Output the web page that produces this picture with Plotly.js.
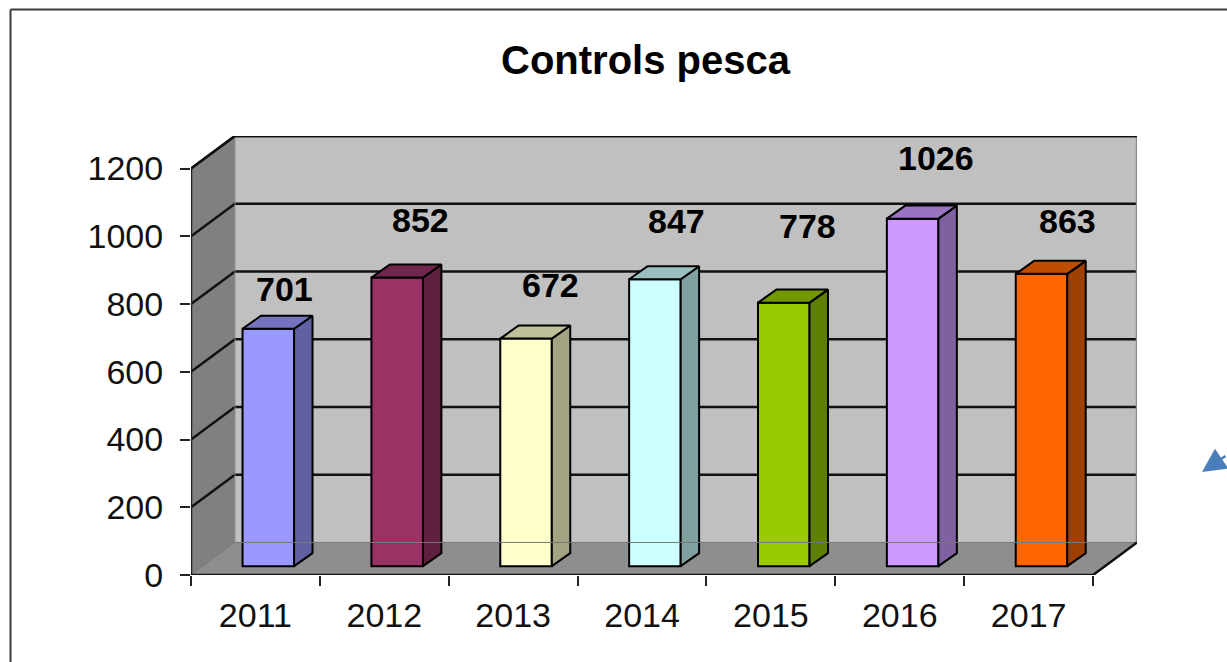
<!DOCTYPE html>
<html><head><meta charset="utf-8">
<script src="https://cdn.plot.ly/plotly-3.0.1.min.js"></script>
<style>html,body{margin:0;padding:0;background:#fff}#c{width:1227px;height:662px}</style>
</head><body><div id="c"></div>
<script>
const years = ['2011','2012','2013','2014','2015','2016','2017'];
const values = [701,852,672,847,778,1026,863];
const frontColors = ['#9999FF','#993366','#FFFFCC','#CCFFFF','#99CC00','#CC99FF','#FF6600'];
const sideColors = ['#6060A3','#5F1F3F','#A3A381','#80A0A0','#5F7F00','#7F60A0','#A04000'];
const topColors = ['#7373BF','#73264D','#BFBF99','#99BFBF','#739900','#9973BF','#BF4D00'];
const yTicks = [0,200,400,600,800,1000,1200];
const labelShiftX = [16,23,24,22,24,23,26];
const labelShiftY = [40,58,54,58,77,61,53];

const W = 1227, H = 662, M = {l:191, r:90, t:136, b:87};
const wallDX = 0.341, wallDY = 96;      // depth of the chart box, in axis units
const barDX = 0.1, barDY = 26;          // offset of the bar front from the box front
const sideDX = 0.143, sideDY = 38.5;    // depth of a bar
const barW = 0.4, x0 = -0.5, x1 = 6.5, yMax = 1200;
const pageX = px => (px - M.l) / (W - M.l - M.r);
const pageY = py => 1 - (py - M.t) / (H - M.t - M.b);

const pathOf = pts => 'M' + pts.map(p => p.join(',')).join('L') + 'Z';
const shapes = [
  {type:'path', layer:'below', path:pathOf([[x0+wallDX,wallDY],[x1+wallDX,wallDY],[x1+wallDX,yMax+wallDY],[x0+wallDX,yMax+wallDY]]), fillcolor:'#C0C0C0', line:{width:0}},
  {type:'path', layer:'below', path:pathOf([[x0,0],[x0+wallDX,wallDY],[x0+wallDX,yMax+wallDY],[x0,yMax]]), fillcolor:'#808080', line:{width:0}},
  {type:'path', layer:'below', path:pathOf([[x0,0],[x1,0],[x1+wallDX,wallDY],[x0+wallDX,wallDY]]), fillcolor:'#8E8E8E', line:{width:0}}
];
yTicks.slice(1).forEach(v => shapes.push({type:'path', layer:'below',
  path:'M'+x0+','+v+'L'+(x0+wallDX)+','+(v+wallDY)+'L'+(x1+wallDX)+','+(v+wallDY),
  line:{color:'#111',width:2.5}}));

const traces = [{
  type:'bar', x:years.map((_,i)=>i+barDX), y:values, base:barDY, width:barW,
  marker:{color:frontColors, line:{color:'#000',width:2}}, hoverinfo:'skip', showlegend:false
}];
const poly = (pts, color) => traces.push({type:'scatter', mode:'lines', x:pts.map(p=>p[0]).concat(pts[0][0]),
  y:pts.map(p=>p[1]).concat(pts[0][1]), fill:'toself', fillcolor:color, line:{color:'#000',width:2},
  hoverinfo:'skip', showlegend:false});
values.forEach((v,i) => {
  const l = i+barDX-barW/2, r = i+barDX+barW/2, b = barDY, t = barDY+v;
  poly([[r,b],[r+sideDX,b+sideDY],[r+sideDX,t+sideDY],[r,t]], sideColors[i]);
  poly([[l,t],[r,t],[r+sideDX,t+sideDY],[l+sideDX,t+sideDY]], topColors[i]);
});
const edge = (xs, ys, color, width) => traces.push({type:'scatter', mode:'lines', x:xs, y:ys, cliponaxis:false,
  line:{color:color,width:width}, hoverinfo:'skip', showlegend:false});
edge([x1+wallDX,x1+wallDX],[wallDY,yMax+wallDY],'#8a8a8a',2.5);
edge([x0+wallDX,x0+wallDX],[wallDY,yMax+wallDY],'#8a8a8a',1);
edge([x0+wallDX,x1+wallDX],[wallDY,wallDY],'#777',1);
edge([x0,x0+wallDX,x1+wallDX],[yMax,yMax+wallDY,yMax+wallDY],'#111',2.5);
edge([x0,x0],[0,yMax],'#222',2.5);
edge([x0,x0+wallDX],[0,wallDY],'#777',1);
edge([x0,x1,x1+wallDX],[0,0,wallDY],'#111',2.5);

const annotations = values.map((v,i) => ({x:i+barDX, y:v+barDY, text:String(v), showarrow:false,
  xanchor:'center', yanchor:'middle', xshift:labelShiftX[i], yshift:labelShiftY[i],
  font:{family:'Liberation Sans, Arial, sans-serif', size:34, color:'#000', weight:700}}));
annotations.push({xref:'paper', yref:'paper', x:pageX(1202), y:pageY(472), axref:'pixel', ayref:'pixel',
  ax:26, ay:-17, text:'', showarrow:true, arrowhead:2, arrowsize:1.9, arrowwidth:2.5, arrowcolor:'#4A7EBB', standoff:0});

shapes.push({type:'line', xref:'paper', yref:'paper', x0:pageX(10.5), x1:pageX(1227), y0:pageY(9.5), y1:pageY(9.5), line:{color:'#3a3a3a',width:2}});
shapes.push({type:'line', xref:'paper', yref:'paper', x0:pageX(10.5), x1:pageX(10.5), y0:pageY(9.5), y1:pageY(662), line:{color:'#3a3a3a',width:2}});

const fontAxis = {family:'Liberation Sans, Arial, sans-serif', size:34, color:'#111'};
const layout = {
  width:W, height:H, margin:M, paper_bgcolor:'#fff', plot_bgcolor:'rgba(0,0,0,0)', showlegend:false,
  title:{text:'<b>Controls pesca</b>', x:645.5/W, xanchor:'center', y:1-60/H, yanchor:'middle',
    font:{family:'Liberation Sans, Arial, sans-serif', size:40, color:'#000'}},
  xaxis:{range:[x0,x1+wallDX], tickmode:'array', tickvals:years.map((_,i)=>i), ticktext:years,
    ticks:'', showgrid:false, zeroline:false, showline:false, tickfont:fontAxis, ticklabelstandoff:17,
    minor:{tickmode:'array', tickvals:years.map((_,i)=>i-0.5).concat(x1), ticks:'outside', ticklen:10, tickwidth:2, tickcolor:'#222', showgrid:false}},
  yaxis:{range:[0,yMax+wallDY], tickmode:'array', tickvals:yTicks, ticks:'outside', ticklen:10, tickwidth:2, tickcolor:'#222',
    showgrid:false, zeroline:false, showline:false, tickfont:fontAxis, ticklabelstandoff:10},
  shapes, annotations, bargap:0
};
Plotly.newPlot('c', traces, layout, {staticPlot:true, displayModeBar:false});
</script>
</body></html>
